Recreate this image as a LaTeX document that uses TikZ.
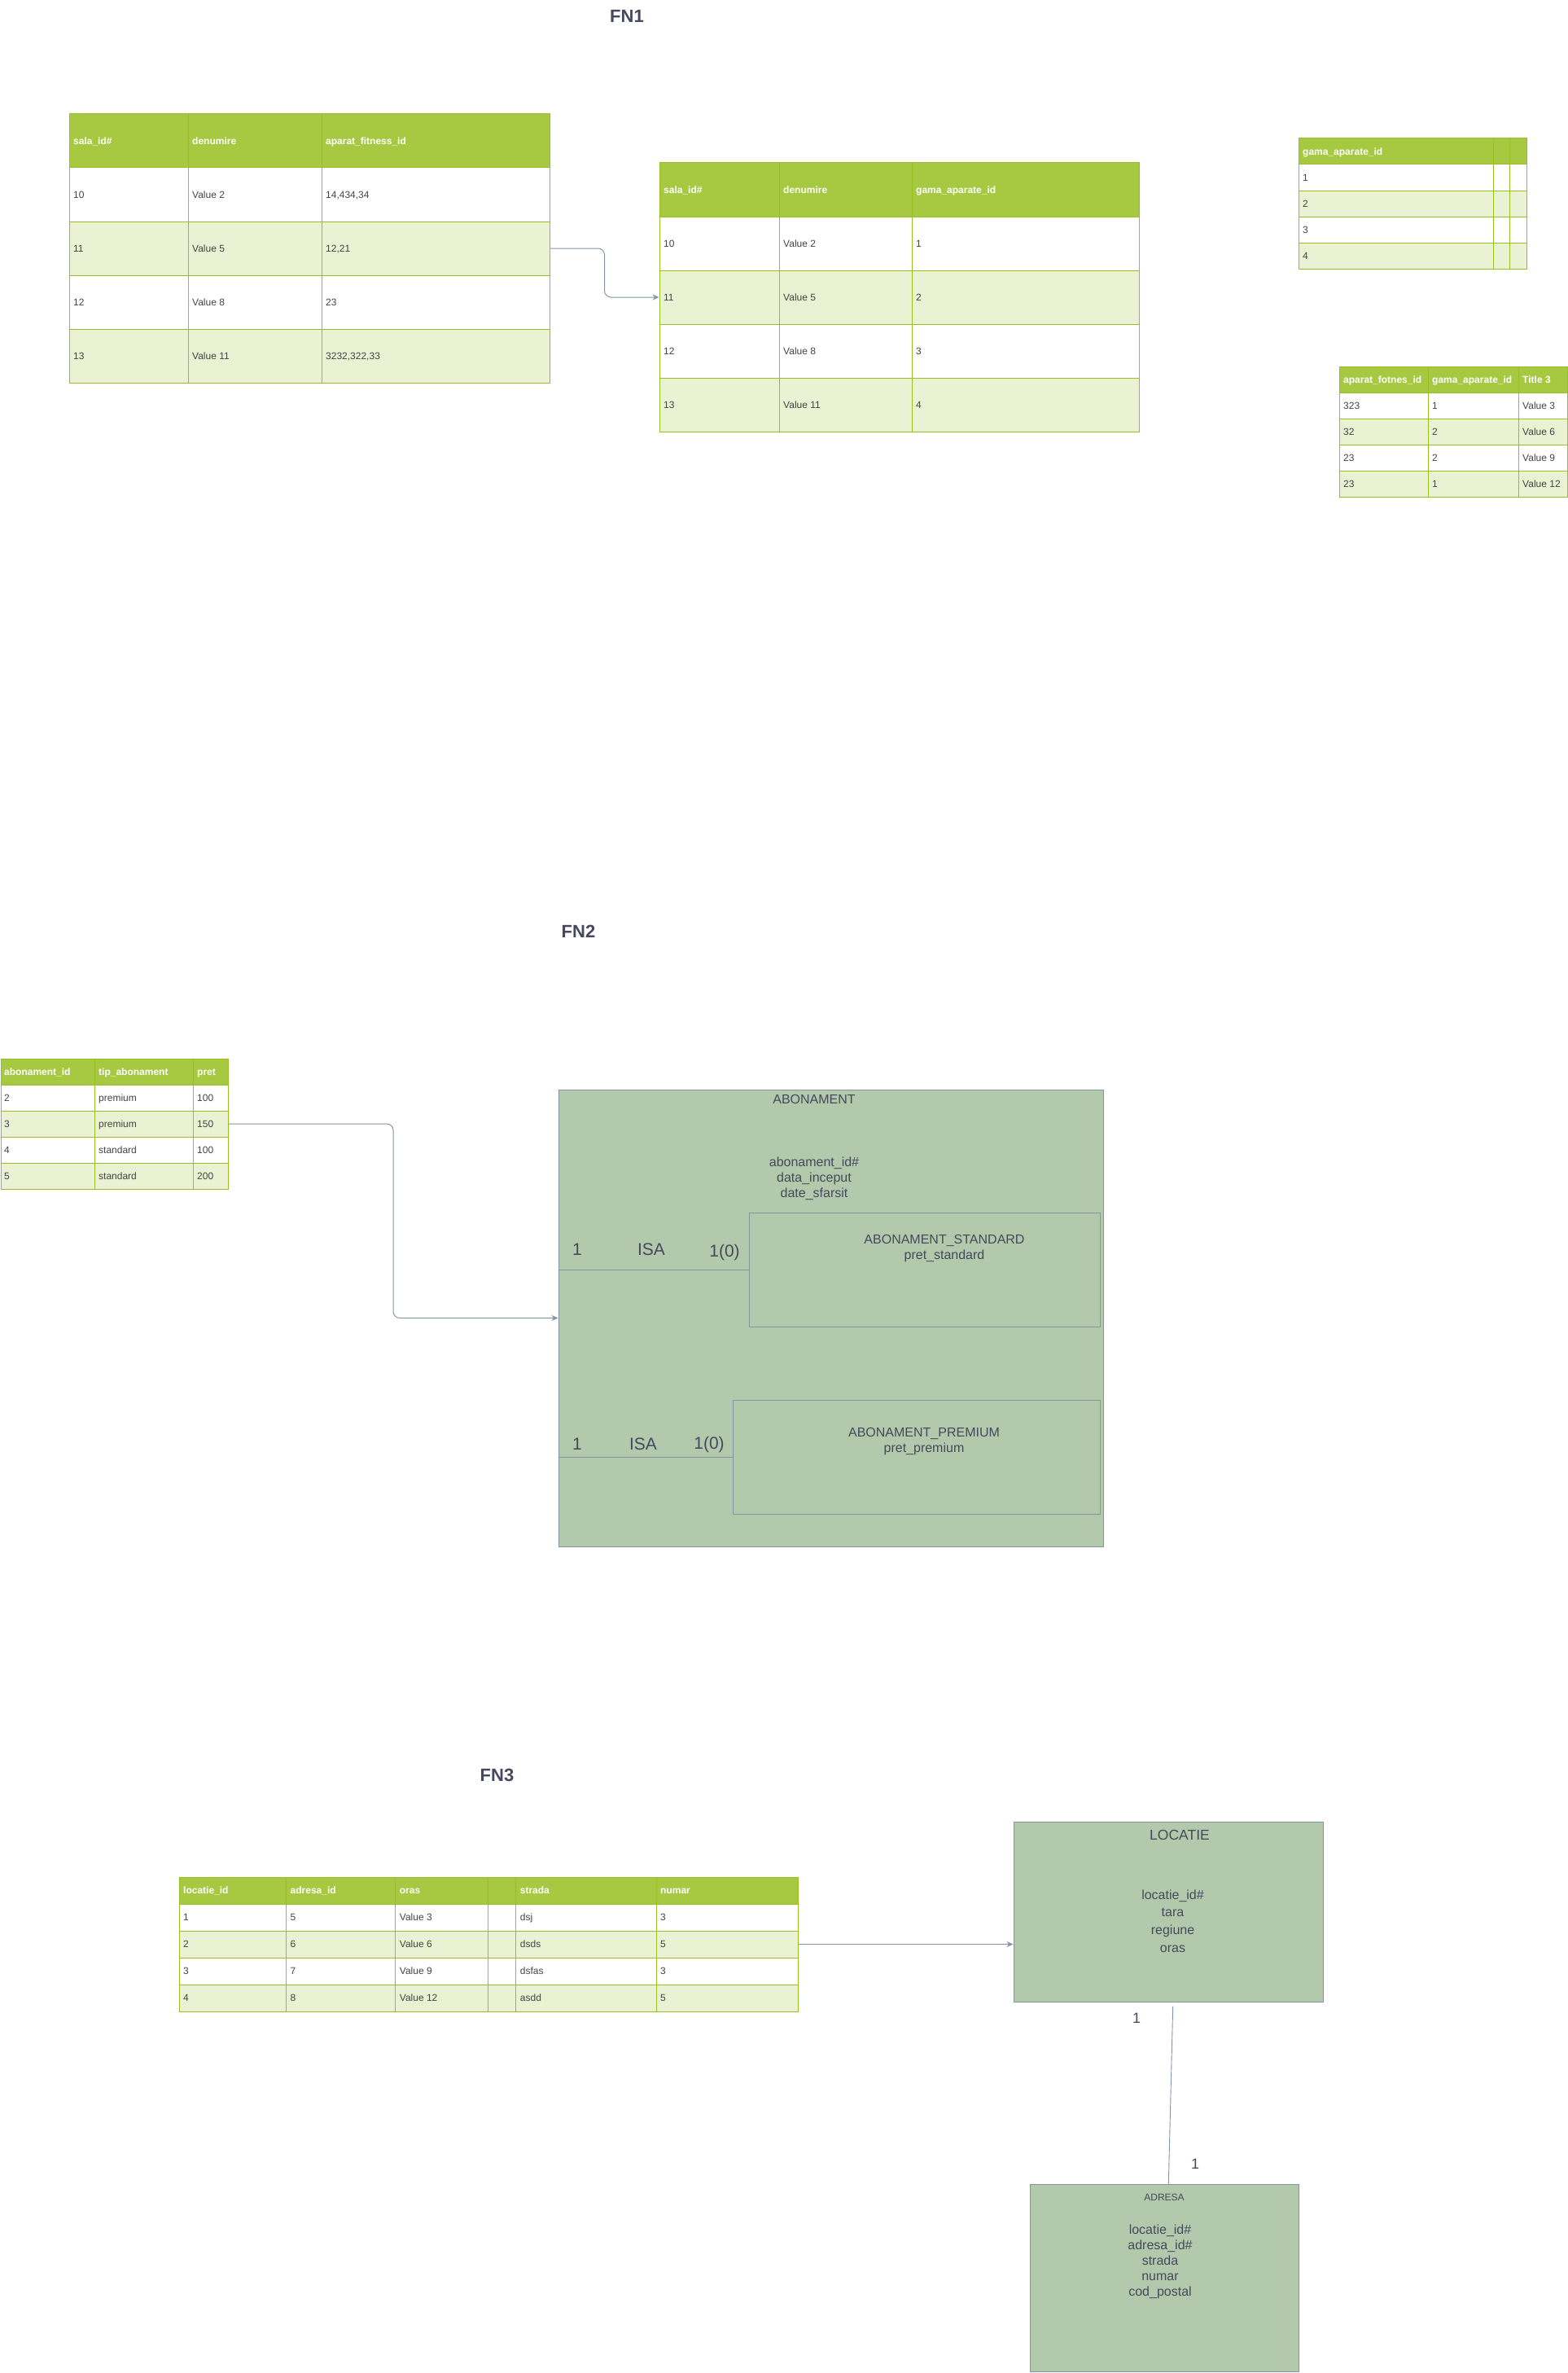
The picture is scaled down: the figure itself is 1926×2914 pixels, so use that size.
\documentclass[tikz,border=0pt]{standalone}
\usepackage{fontspec}
\setmainfont{Liberation Sans}
\usetikzlibrary{arrows.meta,calc}

\definecolor{hdrgreen}{HTML}{A7C942}
\definecolor{rowgreen}{HTML}{EAF2D3}
\definecolor{gridgreen}{HTML}{98BF21}
\definecolor{sage}{HTML}{B2C9AB}
\definecolor{slate}{HTML}{8593A6}
\definecolor{ink}{HTML}{46495D}
\definecolor{celltext}{HTML}{444444}

\tikzset{
  hdr/.style={draw=gridgreen, fill=hdrgreen, line width=1pt},
  rowa/.style={draw=gridgreen, fill=white, line width=1pt},
  rowb/.style={draw=gridgreen, fill=rowgreen, line width=1pt},
  sep/.style={draw=gridgreen, line width=1pt},
  cell/.style={anchor=west, inner sep=0pt, text height=8.6pt, text depth=0pt, text=celltext, font=\fontsize{12}{14}\selectfont},
  hcell/.style={cell, text=white, font=\fontsize{12}{14}\selectfont\bfseries},
  entity/.style={draw=slate, fill=sage, line width=1pt, inner sep=0pt},
  link/.style={draw=slate, line width=1pt, rounded corners=8pt, -{Stealth[length=8pt,width=7pt]}},
  rel/.style={draw=slate, line width=0.9pt},
  fn/.style={text=ink, font=\fontsize{22}{26}\selectfont\bfseries},
  lbl/.style={text=ink, font=\fontsize{16}{19.2}\selectfont, align=center, inner sep=0pt},
  card/.style={text=ink, font=\fontsize{21}{25}\selectfont, inner sep=0pt},
}

\begin{document}
\begin{tikzpicture}[x=1pt, y=-1pt]
\path[use as bounding box, fill=white] (0,0) rectangle (1926,2914);

% FN1
\node[fn] (fn1) at (770,20) {FN1};

\node[hdr, minimum width=590, minimum height=66] (sala0) at (380,173) {};
\foreach \n/\y/\st in {1/239/rowa, 2/305/rowb, 3/371/rowa, 4/437/rowb}
  \node[\st, minimum width=590, minimum height=66] (sala\n) at (380,\y) {};
\draw[sep] (231,140) -- (231,470) (395,140) -- (395,470);
\node[hcell] (sala0-a) at (90,173) {sala\_id\#};
\node[hcell] (sala0-b) at (236,173) {denumire};
\node[hcell] (sala0-c) at (400,173) {aparat\_fitness\_id};
\foreach \n/\y/\ca/\cb/\cc in {1/239/10/Value 2/{14,434,34}, 2/305/11/Value 5/{12,21}, 3/371/12/Value 8/23, 4/437/13/Value 11/{3232,322,33}} {
  \node[cell] (sala\n-a) at (90,\y) {\ca};
  \node[cell] (sala\n-b) at (236,\y) {\cb};
  \node[cell] (sala\n-c) at (400,\y) {\cc};
}

\node[hdr, minimum width=589, minimum height=66] (gama0) at (1104.5,233) {};
\foreach \n/\y/\st in {1/299/rowa, 2/365/rowb, 3/431/rowa, 4/497/rowb}
  \node[\st, minimum width=589, minimum height=66] (gama\n) at (1104.5,\y) {};
\draw[sep] (957,200) -- (957,530) (1120,200) -- (1120,530);
\node[hcell] (gama0-a) at (815,233) {sala\_id\#};
\node[hcell] (gama0-b) at (962,233) {denumire};
\node[hcell] (gama0-c) at (1125,233) {gama\_aparate\_id};
\foreach \n/\y/\ca/\cb/\cc in {1/299/10/Value 2/1, 2/365/11/Value 5/2, 3/431/12/Value 8/3, 4/497/13/Value 11/4} {
  \node[cell] (gama\n-a) at (815,\y) {\ca};
  \node[cell] (gama\n-b) at (962,\y) {\cb};
  \node[cell] (gama\n-c) at (1125,\y) {\cc};
}

\draw[link] (sala2.east) -| ($(sala2.east)!.5!(gama2.west)$) |- (gama2.west);

\node[hdr, minimum width=280, minimum height=32] (gl0) at (1735,186) {};
\foreach \n/\y/\st in {1/218/rowa, 2/250/rowb, 3/282/rowa, 4/314/rowb}
  \node[\st, minimum width=280, minimum height=32] (gl\n) at (1735,\y) {};
\draw[sep] (1834,170) -- (1834,330) (1854,170) -- (1854,330);
\node[hcell] (gl0-a) at (1600,186) {gama\_aparate\_id};
\foreach \n/\y in {1/218, 2/250, 3/282, 4/314}
  \node[cell] (gl\n-a) at (1600,\y) {\n};

\node[hdr, minimum width=280, minimum height=32] (aparat0) at (1785,466) {};
\foreach \n/\y/\st in {1/498/rowa, 2/530/rowb, 3/562/rowa, 4/594/rowb}
  \node[\st, minimum width=280, minimum height=32] (aparat\n) at (1785,\y) {};
\draw[sep] (1754,450) -- (1754,610) (1865,450) -- (1865,610);
\node[hcell] (aparat0-a) at (1650,466) {aparat\_fotnes\_id};
\node[hcell] (aparat0-b) at (1759,466) {gama\_aparate\_id};
\node[hcell] (aparat0-c) at (1870,466) {Title 3};
\foreach \n/\y/\ca/\cb/\cc in {1/498/323/1/Value 3, 2/530/32/2/Value 6, 3/562/23/2/Value 9, 4/594/23/1/Value 12} {
  \node[cell] (aparat\n-a) at (1650,\y) {\ca};
  \node[cell] (aparat\n-b) at (1759,\y) {\cb};
  \node[cell] (aparat\n-c) at (1870,\y) {\cc};
}

% FN2
\node[fn] (fn2) at (710.5,1144) {FN2};

\node[hdr, minimum width=279, minimum height=32] (abon0) at (140.5,1316) {};
\foreach \n/\y/\st in {1/1348/rowa, 2/1380/rowb, 3/1412/rowa, 4/1444/rowb}
  \node[\st, minimum width=279, minimum height=32] (abon\n) at (140.5,\y) {};
\draw[sep] (116,1300) -- (116,1460) (237,1300) -- (237,1460);
\node[hcell] (abon0-a) at (5,1316) {abonament\_id};
\node[hcell] (abon0-b) at (121,1316) {tip\_abonament};
\node[hcell] (abon0-c) at (242,1316) {pret};
\foreach \n/\y/\ca/\cb/\cc in {1/1348/2/premium/100, 2/1380/3/premium/150, 3/1412/4/standard/100, 4/1444/5/standard/200} {
  \node[cell] (abon\n-a) at (5,\y) {\ca};
  \node[cell] (abon\n-b) at (121,\y) {\cb};
  \node[cell] (abon\n-c) at (242,\y) {\cc};
}

\node[entity, minimum width=669, minimum height=561] (abonament) at (1020.5,1618.5) {};
\node[lbl] (abonament-t) at (1000,1350) {ABONAMENT};
\node[lbl] (abonament-a) at (1000,1447) {abonament\_id\#\\data\_inceput\\date\_sfarsit};
\node[entity, minimum width=431, minimum height=140] (standard) at (1135.5,1559) {};
\node[lbl] (standard-t) at (1160,1533) {ABONAMENT\_STANDARD\\pret\_standard};
\node[entity, minimum width=451, minimum height=140] (premium) at (1125.5,1789) {};
\node[lbl] (premium-t) at (1135,1770) {ABONAMENT\_PREMIUM\\pret\_premium};

\draw[rel] (standard.west) -- (standard.west -| abonament.west);
\draw[rel] (premium.west) -- (premium.west -| abonament.west);
\node[card] (isa1-l) at (709,1534) {1};
\node[card] (isa1) at (800,1534) {ISA};
\node[card] (isa1-r) at (890,1538) {1(0)};
\node[card] (isa2-l) at (709,1773) {1};
\node[card] (isa2) at (790,1773) {ISA};
\node[card] (isa2-r) at (871,1774) {1(0)};

\draw[link] (abon2.east) -| ($(abon2.east)!.5!(abonament.west)$) |- (abonament.west);

% FN3
\node[fn] (fn3) at (610.5,2180) {FN3};

\node[hdr, minimum width=760, minimum height=33] (loc0) at (600,2321.5) {};
\foreach \n/\y/\st in {1/2354.5/rowa, 2/2387.5/rowb, 3/2420.5/rowa, 4/2453.5/rowb}
  \node[\st, minimum width=760, minimum height=33] (loc\n) at (600,\y) {};
\foreach \x in {351.5, 485.7, 599.5, 633.7, 806}
  \draw[sep] (\x,2305) -- (\x,2470);
\node[hcell] (loc0-a) at (225,2321.5) {locatie\_id};
\node[hcell] (loc0-b) at (356.5,2321.5) {adresa\_id};
\node[hcell] (loc0-c) at (490.7,2321.5) {oras};
\node[hcell] (loc0-d) at (638.7,2321.5) {strada};
\node[hcell] (loc0-e) at (811,2321.5) {numar};
\foreach \n/\y/\ca/\cb/\cc/\cd/\ce in {1/2354.5/1/5/Value 3/dsj/3, 2/2387.5/2/6/Value 6/dsds/5, 3/2420.5/3/7/Value 9/dsfas/3, 4/2453.5/4/8/Value 12/asdd/5} {
  \node[cell] (loc\n-a) at (225,\y) {\ca};
  \node[cell] (loc\n-b) at (356.5,\y) {\cb};
  \node[cell] (loc\n-c) at (490.7,\y) {\cc};
  \node[cell] (loc\n-d) at (638.7,\y) {\cd};
  \node[cell] (loc\n-e) at (811,\y) {\ce};
}

\node[entity, minimum width=380, minimum height=221] (locatie) at (1435,2347.5) {};
\node[lbl, font=\fontsize{17.5}{21}\selectfont] (locatie-t) at (1449,2253) {LOCATIE};
\node[lbl, font=\fontsize{16}{21.7}\selectfont] (locatie-a) at (1440.5,2359) {locatie\_id\#\\tara\\regiune\\oras};

\draw[link] (loc2.east) -- (loc2.east -| locatie.west);

\node[entity, minimum width=330, minimum height=230] (adresa) at (1430,2797) {};
\node[lbl, font=\fontsize{12}{14}\selectfont] (adresa-t) at (1430,2698) {ADRESA};
\node[lbl, font=\fontsize{16}{19.1}\selectfont] (adresa-a) at (1425,2777.5) {locatie\_id\#\\adresa\_id\#\\strada\\numar\\cod\_postal};

\draw[rel] ([xshift=5.7pt,yshift=-5pt]locatie.south) -- ([xshift=5.3pt]adresa.north);
\node[card, font=\fontsize{18}{22}\selectfont] (locatie-n) at (1396,2478) {1};
\node[card, font=\fontsize{18}{22}\selectfont] (adresa-n) at (1468,2657) {1};
\end{tikzpicture}
\end{document}
